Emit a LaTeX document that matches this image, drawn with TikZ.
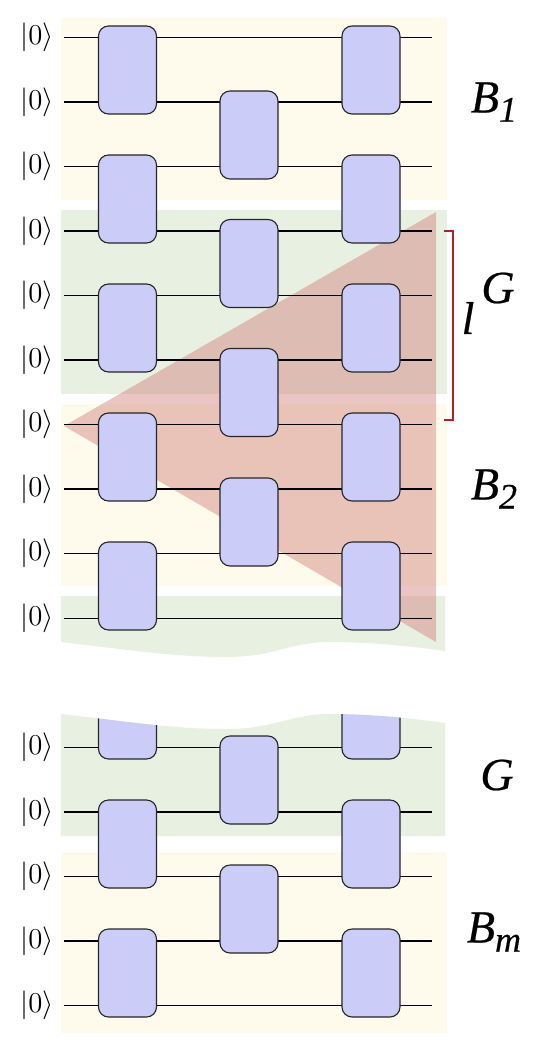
\documentclass[tikz,border=0pt]{standalone}
\usepackage{fontspec}
\usepackage{xcolor}
\usepackage{tikz}
\usetikzlibrary{positioning,calc}
\newfontfamily\blockfont{Liberation Serif}[ItalicFeatures={FakeBold=0.5}]
\definecolor{blockyellow}{HTML}{FEFAEC}
\definecolor{blockgreen}{HTML}{E8F0E2}
\definecolor{gatefill}{HTML}{CBCDF8}
\definecolor{conered}{HTML}{D17E7A}
\definecolor{bracketred}{HTML}{B22222}
\tikzset{
    ket/.style={
        minimum width=27pt, inner sep=0pt,
        font=\Large
    },
    gate/.style={
        draw=black!85, fill=gatefill, line width=0.55pt, rounded corners=5pt,
        minimum width=29pt, minimum height=44pt
    },
    wire/.style={black, line width=0.65pt},
    blocklabel/.style={
        inner sep=0pt,
        font=\blockfont\fontsize{23}{26}\selectfont\itshape
    },
    yellowblock/.style={fill=blockyellow},
    greenblock/.style={fill=blockgreen},
}
\newcommand{\blocksub}[1]{\raisebox{-0.2em}{\fontsize{18}{20}\selectfont #1}}

\begin{document}
\begin{tikzpicture}[x=0.5pt, y=-0.5pt]
        \useasboundingbox (0,0) rectangle (538,1054);
        \path[yellowblock] (61,18) rectangle (447,200);
        \path[greenblock] (61,210) rectangle (447,394);
        \path[yellowblock] (61,404) rectangle (447,586);
        \path[greenblock] (61,596) -- (445,596) -- (445,651) .. controls (410,646) and (370,642) .. (329,642) .. controls (290,642) and (275,657) .. (226,657) .. controls (175,657) and (130,650) .. (61,642) -- cycle;
        \path[greenblock] (61,836) -- (445,836) -- (445,723) .. controls (410,718) and (370,714) .. (329,714) .. controls (290,714) and (275,729) .. (226,729) .. controls (175,729) and (130,722) .. (61,714) -- cycle;
        \path[yellowblock] (61,852) rectangle (447,1033);
        \fill[conered, fill opacity=0.45] (64,426) -- (436,212) -- (436,642) -- cycle;

        \node[ket] (k1) at (37,37.5) {$|0\rangle$};
        \node[ket] (k2) at (37,102) {$|0\rangle$};
        \node[ket] (k3) at (37,166.5) {$|0\rangle$};
        \node[ket] (k4) at (37,231) {$|0\rangle$};
        \node[ket] (k5) at (37,295.5) {$|0\rangle$};
        \node[ket] (k6) at (37,360) {$|0\rangle$};
        \node[ket] (k7) at (37,424.5) {$|0\rangle$};
        \node[ket] (k8) at (37,489) {$|0\rangle$};
        \node[ket] (k9) at (37,553.5) {$|0\rangle$};
        \node[ket] (k10) at (37,618.5) {$|0\rangle$};
        \node[ket] (k11) at (37,747.5) {$|0\rangle$};
        \node[ket] (k12) at (37,812) {$|0\rangle$};
        \node[ket] (k13) at (37,876.5) {$|0\rangle$};
        \node[ket] (k14) at (37,941) {$|0\rangle$};
        \node[ket] (k15) at (37,1005.5) {$|0\rangle$};

        \coordinate (e1) at (432,37.5);
        \coordinate (e2) at (432,102);
        \coordinate (e3) at (432,166.5);
        \coordinate (e4) at (432,231);
        \coordinate (e5) at (432,295.5);
        \coordinate (e6) at (432,360);
        \coordinate (e7) at (432,424.5);
        \coordinate (e8) at (432,489);
        \coordinate (e9) at (432,553.5);
        \coordinate (e10) at (432,618.5);
        \coordinate (e11) at (432,747.5);
        \coordinate (e12) at (432,812);
        \coordinate (e13) at (432,876.5);
        \coordinate (e14) at (432,941);
        \coordinate (e15) at (432,1005.5);
        \draw[wire] (k1.east) -- (e1);
        \draw[wire] (k2.east) -- (e2);
        \draw[wire] (k3.east) -- (e3);
        \draw[wire] (k4.east) -- (e4);
        \draw[wire] (k5.east) -- (e5);
        \draw[wire] (k6.east) -- (e6);
        \draw[wire] (k7.east) -- (e7);
        \draw[wire] (k8.east) -- (e8);
        \draw[wire] (k9.east) -- (e9);
        \draw[wire] (k10.east) -- (e10);
        \draw[wire] (k11.east) -- (e11);
        \draw[wire] (k12.east) -- (e12);
        \draw[wire] (k13.east) -- (e13);
        \draw[wire] (k14.east) -- (e14);
        \draw[wire] (k15.east) -- (e15);

        \node[gate] (a1) at (127.5,70) {};
        \node[gate] (a2) at (127.5,199) {};
        \node[gate] (a3) at (127.5,328) {};
        \node[gate] (a4) at (127.5,457) {};
        \node[gate] (a5) at (127.5,586) {};
        \node[gate] (b1) at (249,135) {};
        \node[gate] (b2) at (249,263.5) {};
        \node[gate] (b3) at (249,392.5) {};
        \node[gate] (b4) at (249,522) {};
        \node[gate] (c1) at (371,70) {};
        \node[gate] (c2) at (371,199) {};
        \node[gate] (c3) at (371,328) {};
        \node[gate] (c4) at (371,457) {};
        \node[gate] (c5) at (371,586) {};
        \begin{scope}
            \clip (61,836) -- (445,836) -- (445,723) .. controls (410,718) and (370,714) .. (329,714) .. controls (290,714) and (275,729) .. (226,729) .. controls (175,729) and (130,722) .. (61,714) -- cycle;
            \node[gate] (a6) at (127.5,715) {};
            \node[gate] (c6) at (371,715) {};
        \end{scope}
        \node[gate] (a7) at (127.5,844) {};
        \node[gate] (a8) at (127.5,973) {};
        \node[gate] (b5) at (249,780) {};
        \node[gate] (b6) at (249,909) {};
        \node[gate] (c7) at (371,844) {};
        \node[gate] (c8) at (371,973) {};

        \coordinate (bt) at (453,231);
        \coordinate (bb) at (453,420);
        \draw[bracketred, line width=0.7pt] ($(bt)+(-9,0)$) -- (bt) -- (bb) -- ($(bb)+(-9,0)$);

        \node[blocklabel] (lb1) at (494,102) {B\blocksub{1}};
        \node[blocklabel] (lg1) at (498,288) {G};
        \node[blocklabel] (ll) at (468,318) {l};
        \node[blocklabel] (lb2) at (494,489) {B\blocksub{2}};
        \node[blocklabel] (lg2) at (497,775) {G};
        \node[blocklabel] (lbm) at (494,932) {B\blocksub{m}};
    \end{tikzpicture}
\end{document}
